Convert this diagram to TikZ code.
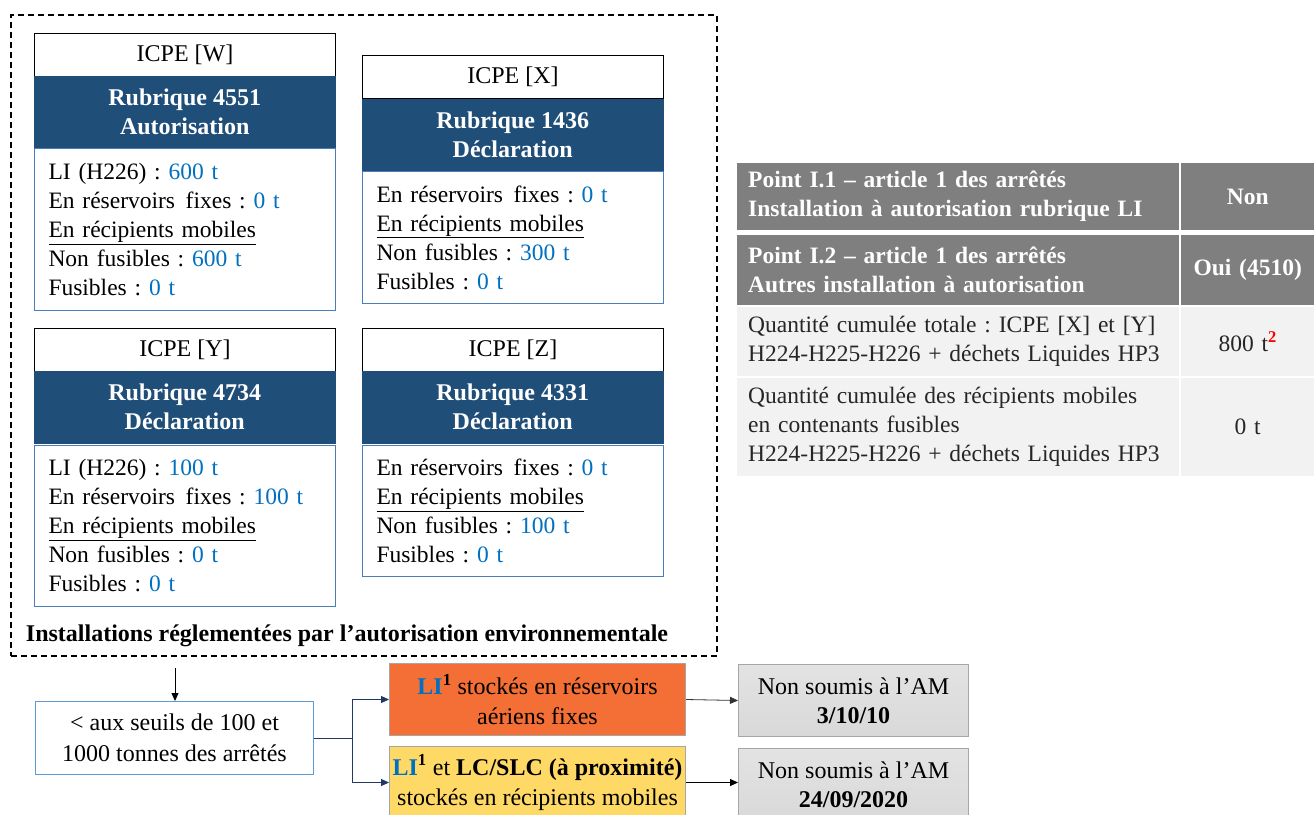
\documentclass[tikz,border=0pt]{standalone}
\usepackage{fontspec}
\setmainfont{Liberation Serif}
\usetikzlibrary{arrows.meta}
\definecolor{hdrblue}{HTML}{1F4E79}
\definecolor{valblue}{HTML}{0070C0}
\definecolor{bodyedge}{HTML}{4A7EBB}
\definecolor{tdark}{HTML}{7F7F7F}
\definecolor{tlight}{HTML}{F2F2F2}
\definecolor{tdarktext}{HTML}{262626}
\definecolor{orangefill}{HTML}{F46F36}
\definecolor{yellowfill}{HTML}{FFD966}
\definecolor{grayedge}{HTML}{A6A6A6}
\definecolor{navy}{HTML}{203864}
\definecolor{lightblueedge}{HTML}{5B9BD5}
\newcommand{\val}[1]{\textcolor{valblue}{#1}}
\newcommand{\LIb}{\textcolor{valblue}{\textbf{LI}}\textsuperscript{\textbf{1}}}
\newcommand{\resfix}{En réservoirs\hspace{0.12em} fixes}
\begin{document}
\frenchspacing
\begin{tikzpicture}[x=1pt,y=-1pt,
  font=\fontsize{23.5}{29}\selectfont,
  titlebox/.style={draw=black, fill=white, line width=1pt, minimum width=301pt, minimum height=43pt, inner sep=0pt, anchor=north west, font=\fontsize{24}{29}\selectfont},
  hdrbox/.style={draw=hdrblue, fill=hdrblue, text=white, font=\fontsize{24}{29}\selectfont\bfseries, align=center, minimum width=301pt, minimum height=72pt, inner sep=0pt, anchor=north west},
  bodybox/.style={draw=bodyedge, fill=white, line width=1pt, text width=273pt, inner xsep=14pt, inner ysep=0pt, align=left, anchor=north west},
  tleft/.style={fill=#1, text width=420pt, inner xsep=11pt, inner ysep=0pt, align=left, anchor=north west, minimum width=442pt},
  tright/.style={fill=#1, text width=133pt, inner sep=0pt, align=center, anchor=north west, minimum width=133pt},
  flowbox/.style={draw=grayedge, line width=1pt, minimum width=296pt, minimum height=72pt, inner sep=0pt, align=center, anchor=north west, font=\fontsize{24}{30}\selectfont},
  amsbox/.style={draw=grayedge, line width=1pt, top color=gray!22, bottom color=gray!30, minimum width=230pt, minimum height=72pt, inner sep=0pt, align=center, anchor=north west, font=\fontsize{24}{29}\selectfont},
  navyarrow/.style={draw=navy, line width=1pt, -{Triangle[length=8pt,width=7pt]}},
  blackarrow/.style={draw=black, line width=0.8pt, -{Triangle[length=8pt,width=7pt]}}
]
\useasboundingbox (0,0) rectangle (1314,814);

% enclosing dashed zone
\node[draw=black, dash pattern=on 6pt off 4pt, line width=1.5pt, minimum width=706pt, minimum height=641pt, inner sep=0pt, anchor=north west] (zone) at (10,14) {};
\node[font=\fontsize{24}{29}\selectfont\bfseries, anchor=center] (caption) at (347,636) {Installations réglementées par l’autorisation environnementale};

% ICPE W
\node[titlebox] (wt) at (34,33) {ICPE [W]};
\node[hdrbox] (wh) at (34,76) {Rubrique 4551\\Autorisation};
\node[bodybox, minimum height=162pt] (wb) at (34,148) {LI (H226) : \val{600 t}\\\resfix{} : \val{0 t}\\\underline{En récipients mobiles}\\Non fusibles : \val{600 t}\\Fusibles : \val{0 t}};

% ICPE X
\node[titlebox] (xt) at (362,55) {ICPE [X]};
\node[hdrbox] (xh) at (362,99) {Rubrique 1436\\Déclaration};
\node[bodybox, minimum height=132pt] (xb) at (362,171) {\resfix{} : \val{0 t}\\\underline{En récipients mobiles}\\Non fusibles : \val{300 t}\\Fusibles : \val{0 t}};

% ICPE Y
\node[titlebox] (yt) at (34,328) {ICPE [Y]};
\node[hdrbox] (yh) at (34,371) {Rubrique 4734\\Déclaration};
\node[bodybox, minimum height=161pt] (yb) at (34,445) {LI (H226) : \val{100 t}\\\resfix{} : \val{100 t}\\\underline{En récipients mobiles}\\Non fusibles : \val{0 t}\\Fusibles : \val{0 t}};

% ICPE Z
\node[titlebox] (zt) at (362,328) {ICPE [Z]};
\node[hdrbox] (zh) at (362,371) {Rubrique 4331\\Déclaration};
\node[bodybox, minimum height=131pt] (zb) at (362,445) {\resfix{} : \val{0 t}\\\underline{En récipients mobiles}\\Non fusibles : \val{100 t}\\Fusibles : \val{0 t}};

% table
\node[tleft=tdark, text=white, font=\fontsize{23.5}{29}\selectfont\bfseries, minimum height=67pt] (r1l) at (737,163) {Point I.1 – article 1 des arrêtés\\Installation à autorisation rubrique LI};
\node[tright=tdark, text=white, font=\fontsize{23.5}{29}\selectfont\bfseries, minimum height=67pt] (r1r) at (1181,163) {Non};
\node[tleft=tdark, text=white, font=\fontsize{23.5}{29}\selectfont\bfseries, minimum height=70pt] (r2l) at (737,235) {Point I.2 – article 1 des arrêtés\\Autres installation à autorisation};
\node[tright=tdark, text=white, font=\fontsize{23.5}{29}\selectfont\bfseries, minimum height=70pt] (r2r) at (1181,235) {Oui (4510)};
\node[tleft=tlight, text=tdarktext, minimum height=69pt] (r3l) at (737,307) {\mbox{Quantité cumulée totale : ICPE [X] et [Y]}\\\mbox{H224-H225-H226 + déchets Liquides HP3}};
\node[tright=tlight, text=tdarktext, minimum height=69pt] (r3r) at (1181,307) {800 t\textsuperscript{\textcolor{red}{\textbf{2}}}};
\node[tleft=tlight, text=tdarktext, minimum height=98pt] (r4l) at (737,378) {\mbox{Quantité cumulée des récipients mobiles}\\en contenants fusibles\\\mbox{H224-H225-H226 + déchets Liquides HP3}};
\node[tright=tlight, text=tdarktext, minimum height=98pt] (r4r) at (1181,378) {0 t};

% flow at bottom
\node[draw=lightblueedge, line width=1pt, fill=white, minimum width=278pt, minimum height=73pt, inner sep=0pt, align=center, anchor=north west, font=\fontsize{24}{31}\selectfont] (seuil) at (35,701) {< aux seuils de 100 et\\1000 tonnes des arrêtés};
\node[flowbox, fill=orangefill] (orange) at (389,663) {\LIb{} stockés en réservoirs\\aériens fixes};
\node[flowbox, fill=yellowfill] (yellow) at (389,746) {\LIb{} et \textbf{LC/SLC (à proximité)}\\stockés en récipients mobiles};
\node[amsbox] (am1) at (738,664) {Non soumis à l’AM\\\textbf{3/10/10}};
\node[amsbox] (am2) at (738,748) {Non soumis à l’AM\\\textbf{24/09/2020}};

\coordinate (drop) at (175,668);
\draw[blackarrow] (drop) -- (drop |- seuil.north);
\draw[draw=navy, line width=1pt] (seuil.east) -- ++(38,0) coordinate (split);
\draw[navyarrow] (split) |- (orange.west);
\draw[navyarrow] (split) |- (yellow.west);
\draw[draw=black!80, line width=0.8pt, -{Triangle[length=8pt,width=7pt]}] (orange.east) -- (am1.west);
\draw[draw=black, line width=0.8pt, -{Triangle[length=8pt,width=7pt]}] (yellow.east) -- (yellow.east -| am2.west);
\end{tikzpicture}
\end{document}
